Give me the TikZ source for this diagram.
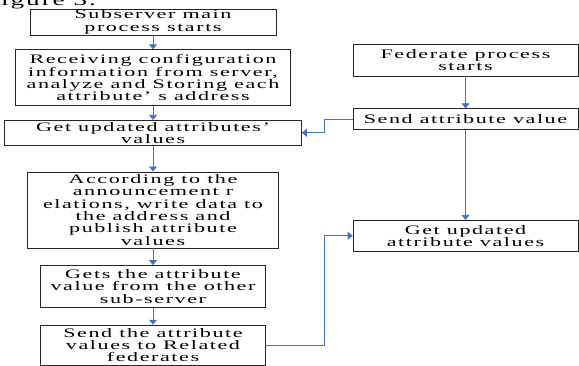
\documentclass[tikz,border=0pt]{standalone}
\usepackage{fontspec}
\usepackage{xcolor}
\usepackage{tikz}
\usetikzlibrary{arrows.meta,positioning,calc}
\newfontfamily\figfont[FakeStretch=1.7,LetterSpace=12]{Liberation Serif}
\definecolor{flowblue}{RGB}{68,114,196}

\begin{document}
\begin{tikzpicture}[
    node distance=14pt,
    stepbox/.style={rectangle, draw=black!85, line width=0.6pt, align=center, inner sep=1pt, font=\figfont\fontsize{13}{12.3}\selectfont},
    arrow/.style={-{Triangle[width=8pt,length=5pt]}, line width=0.8pt, draw=flowblue}
]
\useasboundingbox (0,0) rectangle (579pt,-365pt);
\clip (0,0) rectangle (579pt,-365pt);

% Caption, cut off at the top
\node[anchor=base west, inner sep=0pt, font=\figfont\fontsize{16}{16}\selectfont] (caption) at (-16pt,-5pt) {Figure 3.};

% Subserver side
\node[stepbox, minimum width=246pt, minimum height=24pt] (substart) at (153pt,-22pt) {Subserver main\\process starts};
\node[stepbox, minimum width=275pt, minimum height=56pt, below=of substart] (config) {Receiving configuration\\information from server,\\analyze and  Storing each\\attribute’ s address};
\node[stepbox, minimum width=297pt, minimum height=25pt, below=of config] (getvals) {Get updated attributes’\\values};
\node[stepbox, minimum width=251pt, minimum height=76pt, below=26pt of getvals] (publish) {According to the\\announcement r\\elations, write data to\\the address and\\publish attribute\\values};
\node[stepbox, minimum width=225pt, minimum height=42pt, below=17pt of publish] (other) {Gets the attribute\\value from the other\\sub-server};
\node[stepbox, minimum width=225pt, minimum height=40pt, below=17pt of other] (sendfed) {Send the attribute\\values to Related\\federates};

% Federate side
\node[stepbox, minimum width=225pt, minimum height=32pt] (fedstart) at (465.5pt,-60pt) {Federate process\\starts};
\node[stepbox, minimum width=225pt, minimum height=21pt, below=32pt of fedstart] (sendattr) {Send attribute value};
\node[stepbox, minimum width=225pt, minimum height=31pt, below=90pt of sendattr] (fedget) {Get updated\\attribute values};

% Arrows
\draw[arrow] (substart) -- (config);
\draw[arrow] (config) -- (getvals);
\draw[arrow] (getvals) -- (publish);
\draw[arrow] (publish) -- (other);
\draw[arrow] (other) -- (sendfed);
\draw[arrow] (fedstart) -- (sendattr);
\draw[arrow] (sendattr) -- (fedget);
\draw[arrow] (sendattr.west) -- ++(-28pt,0) |- (getvals.east);
\draw[arrow] (sendfed.east) -| ([xshift=-28pt]fedget.west) -- (fedget.west);

\end{tikzpicture}
\end{document}
